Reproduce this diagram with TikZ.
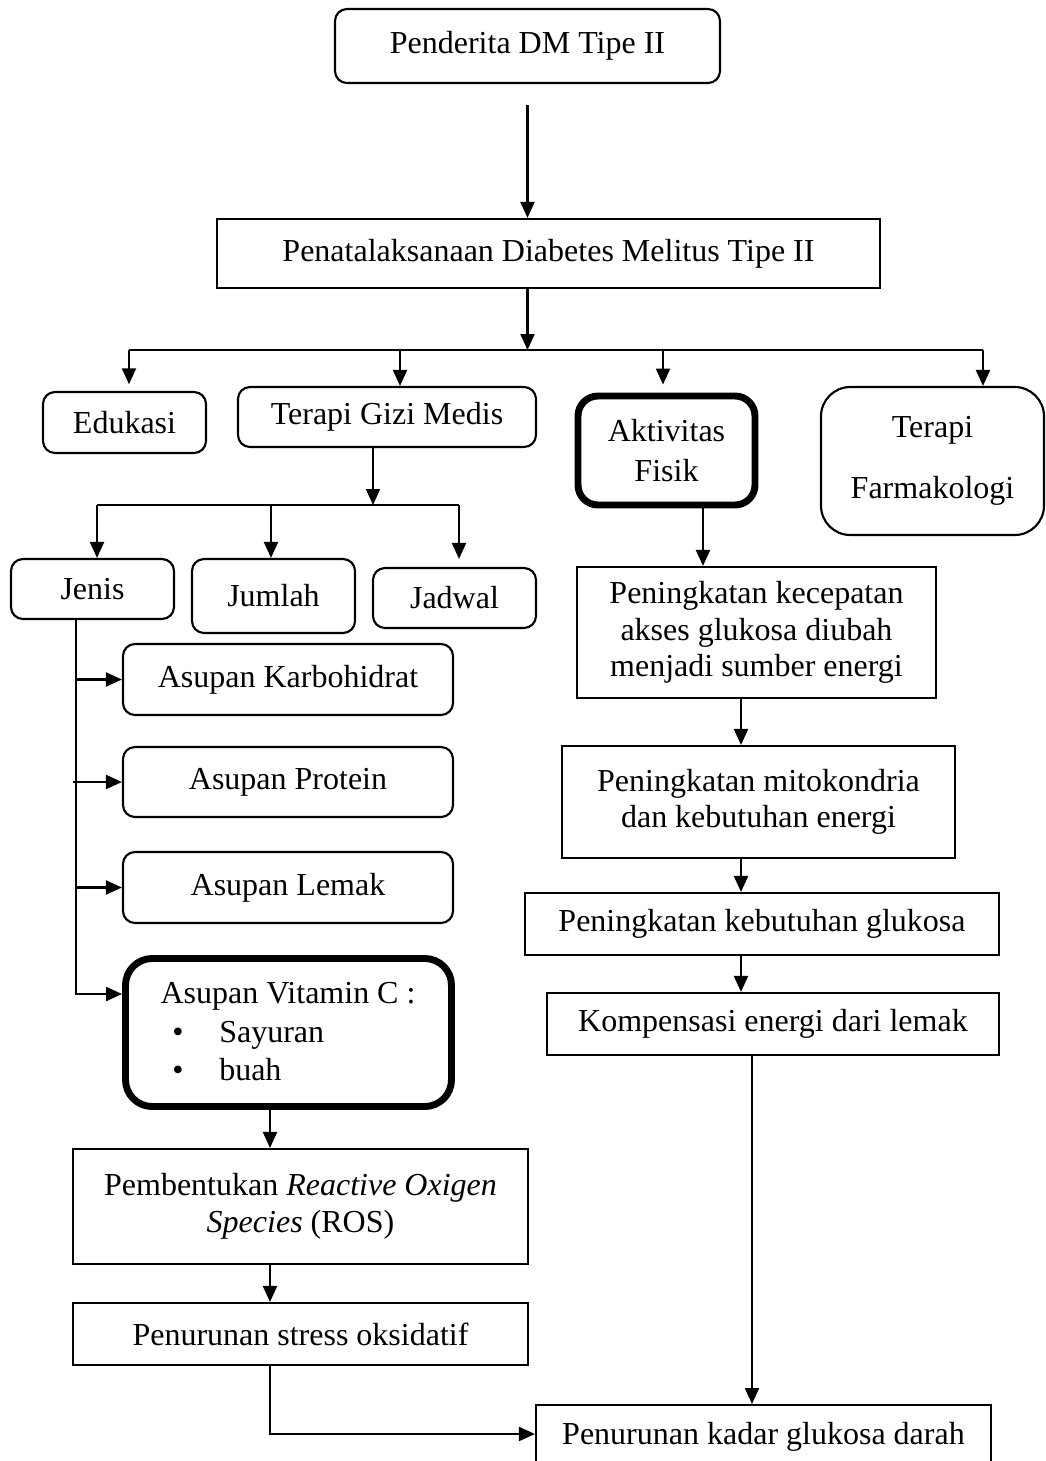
\documentclass[tikz,border=0pt]{standalone}
\usepackage{fontspec}
\setmainfont{Liberation Serif}
\usetikzlibrary{arrows.meta}
\begin{document}
\begin{tikzpicture}[x=0.75pt,y=-0.75pt,
  bw/.style={minimum width=#1*0.75pt},
  bh/.style={minimum height=#1*0.75pt},
  base/.style={draw, line width=1.6pt, inner sep=0pt, align=center, font=\fontsize{24}{27.5}\selectfont},
  rbox/.style={base, rounded corners=9pt},
  sbox/.style={base},
  tbox/.style={base, rounded corners=15pt, line width=5.2pt},
  txt/.style={inner sep=0pt, font=\fontsize{24}{27.5}\selectfont},
  arr/.style={line width=1.6pt, -{Triangle[length=12pt,width=10.5pt]}},
  ln/.style={line width=1.6pt},
]
\useasboundingbox (0,0) rectangle (1046,1461);
\clip (0,0) rectangle (1046,1461);
\fill[white] (0,0) rectangle (1046,1461);

% nodes
\node[rbox,bw=385,bh=74] (pend) at (527.5,46) {Penderita DM Tipe II};
\node[sbox,bw=663,bh=69] (pena) at (548.5,253.5) {Penatalaksanaan Diabetes Melitus Tipe II};
\node[rbox,bw=163,bh=61] (edu) at (124.5,422.5) {Edukasi};
\node[rbox,bw=298,bh=60] (tgm) at (387,417) {Terapi Gizi Medis};
\node[tbox,bw=177,bh=109] (akt) at (666.5,450.5) {Aktivitas\\[2.5pt]Fisik};
\node[rbox,rounded corners=22pt,bw=223,bh=148] (farm) at (932.5,461) {Terapi\\[18pt]Farmakologi};
\node[rbox,bw=163,bh=60] (jenis) at (92.5,589) {Jenis};
\node[rbox,bw=163,bh=74] (jumlah) at (273.5,596) {Jumlah};
\node[rbox,bw=163,bh=60] (jadwal) at (454.5,598) {Jadwal};
\node[rbox,bw=330,bh=71] (karbo) at (288,679.5) {Asupan Karbohidrat};
\node[rbox,bw=330,bh=70] (prot) at (288,782) {Asupan Protein};
\node[rbox,bw=330,bh=71] (lemak) at (288,887.5) {Asupan Lemak};
\node[tbox,rounded corners=20pt,bw=326,bh=148] (vitc) at (288.5,1032.5) {};
\node[txt,anchor=base] (vt) at (288,1003) {Asupan Vitamin C :};
\node[txt,anchor=base] (b1) at (178,1042) {•};
\node[txt,anchor=base west] (s1) at (219,1042) {Sayuran};
\node[txt,anchor=base] (b2) at (178,1080) {•};
\node[txt,anchor=base west] (s2) at (219,1080) {buah};
\node[sbox,bw=455,bh=115] (ros) at (300.5,1206.5) {Pembentukan \textit{Reactive Oxigen}\\\textit{Species} (ROS)};
\node[sbox,bw=455,bh=62] (stress) at (300.5,1334) {Penurunan stress oksidatif};
\node[sbox,bw=359,bh=131] (kec) at (756.5,632.5) {Peningkatan kecepatan\\akses glukosa diubah\\menjadi sumber energi};
\node[sbox,bw=393,bh=112] (mito) at (758.5,802) {Peningkatan mitokondria\\dan kebutuhan energi};
\node[sbox,bw=474,bh=62] (kebg) at (762,924) {Peningkatan kebutuhan glukosa};
\node[sbox,bw=452,bh=62] (komp) at (773,1024) {Kompensasi energi dari lemak};
\node[sbox,bw=455,anchor=north,text height=16.5pt,text depth=40pt,inner ysep=12.75pt] (turun) at (763.5,1404) {Penurunan kadar glukosa darah};

% helper coordinates
\coordinate (ybr) at (0,350);
\coordinate (xedu) at (129,0);
\coordinate (xtgm) at (400,0);
\coordinate (xakt) at (663,0);
\coordinate (xfarm) at (983,0);
\coordinate (ybr2) at (0,505);
\coordinate (xtg2) at (373,0);
\coordinate (xj1) at (97,0);
\coordinate (xj2) at (271,0);
\coordinate (xj3) at (459,0);
\coordinate (xjv) at (76,0);
\coordinate (jv) at (76,994);
\coordinate (xl) at (270,0);
\coordinate (yt) at (0,1434);
\coordinate (xa) at (703,0);
\coordinate (xr) at (741,0);
\coordinate (xk) at (752,0);

% connectors
\draw[arr] ([yshift=-15.75pt]pend.south) -- (pend.south |- pena.north);
\draw[arr] (pend.south |- pena.south) -- (pend.south |- ybr);
\draw[ln] (xedu |- ybr) -- (xfarm |- ybr);
\draw[arr,shorten >=5pt] (xedu |- ybr) -- (xedu |- edu.north);
\draw[arr] (xtgm |- ybr) -- (xtgm |- tgm.north);
\draw[arr,shorten >=6pt] (xakt |- ybr) -- (xakt |- akt.north);
\draw[arr] (xfarm |- ybr) -- (xfarm |- farm.north);

\draw[arr] (xtg2 |- tgm.south) -- (xtg2 |- ybr2);
\draw[ln] (xj1 |- ybr2) -- (xj3 |- ybr2);
\draw[arr] (xj1 |- ybr2) -- (xj1 |- jenis.north);
\draw[arr] (xj2 |- ybr2) -- (xj2 |- jumlah.north);
\draw[arr,shorten >=6pt] (xj3 |- ybr2) -- (xj3 |- jadwal.north);

\draw[arr] (xjv |- jenis.south) -- (jv) -- (vitc.west |- jv);
\draw[arr] (xjv |- karbo.west) -- (karbo.west);
\draw[arr] ([xshift=-2.25pt]xjv |- prot.west) -- (prot.west);
\draw[arr] (xjv |- lemak.west) -- (lemak.west);

\draw[arr] (xl |- vitc.south) -- (xl |- ros.north);
\draw[arr] (xl |- ros.south) -- (xl |- stress.north);
\draw[arr] (xl |- stress.south) -- (xl |- yt) -- (turun.west |- yt);

\draw[arr] (xa |- akt.south) -- (xa |- kec.north);
\draw[arr] (xr |- kec.south) -- (xr |- mito.north);
\draw[arr] (xr |- mito.south) -- (xr |- kebg.north);
\draw[arr] (xr |- kebg.south) -- (xr |- komp.north);
\draw[arr] (xk |- komp.south) -- (xk |- turun.north);
\end{tikzpicture}
\end{document}
